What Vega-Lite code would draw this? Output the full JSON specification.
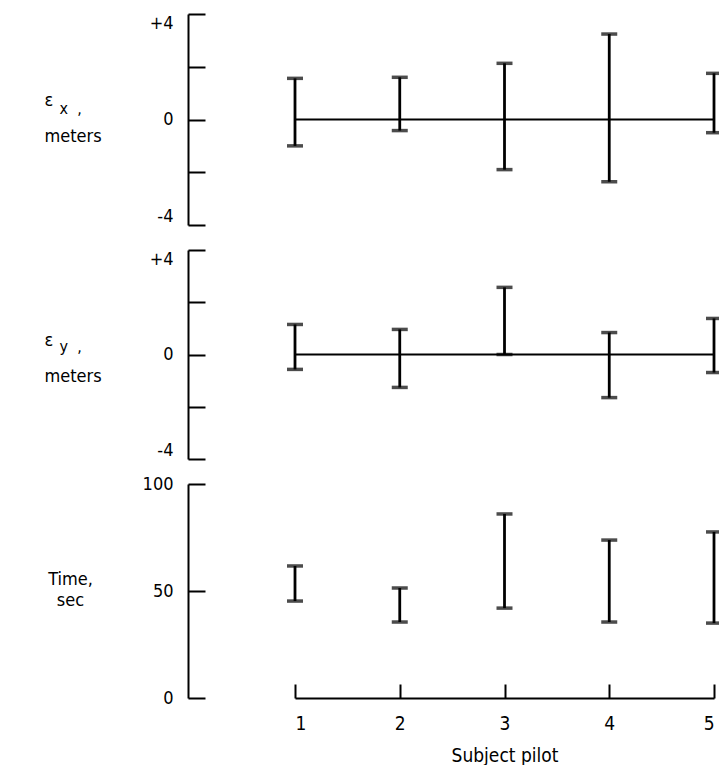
{
  "$schema": "https://vega.github.io/schema/vega-lite/v6.json",
  "background": "white",
  "padding": {"left": 44, "top": 13, "right": 0, "bottom": 0},
  "spacing": 25,
  "bounds": "flush",
  "config": {
    "font": "DejaVu Sans Condensed, Liberation Sans",
    "view": {"stroke": null},
    "axis": {
      "grid": false,
      "domainColor": "black",
      "tickColor": "black",
      "labelColor": "black",
      "titleColor": "black",
      "domainWidth": 2,
      "tickWidth": 2,
      "labelFont": "DejaVu Sans Condensed, Liberation Sans",
      "titleFont": "DejaVu Sans Condensed, Liberation Sans",
      "labelFontSize": 18,
      "titleFontSize": 18,
      "titleFontWeight": "normal"
    }
  },
  "datasets": {
    "ex": [
      {"subject": 1, "low": -1.0, "high": 1.56},
      {"subject": 2, "low": -0.42, "high": 1.6},
      {"subject": 3, "low": -1.9, "high": 2.13},
      {"subject": 4, "low": -2.36, "high": 3.24},
      {"subject": 5, "low": -0.5, "high": 1.75}
    ],
    "ey": [
      {"subject": 1, "low": -0.57, "high": 1.15},
      {"subject": 2, "low": -1.26, "high": 0.96},
      {"subject": 3, "low": 0, "high": 2.57},
      {"subject": 4, "low": -1.65, "high": 0.84},
      {"subject": 5, "low": -0.69, "high": 1.38}
    ],
    "time": [
      {"subject": 1, "low": 45.3, "high": 61.7},
      {"subject": 2, "low": 35.5, "high": 51.4},
      {"subject": 3, "low": 42, "high": 86},
      {"subject": 4, "low": 35.5, "high": 73.8},
      {"subject": 5, "low": 35, "high": 77.6}
    ]
  },
  "vconcat": [
    {
      "width": 419,
      "height": 211,
      "data": {"name": "ex"},
      "encoding": {
        "x": {
          "field": "subject",
          "type": "quantitative",
          "scale": {"domain": [1, 5]},
          "axis": {"domain": false, "ticks": false, "labels": false, "title": "x\u00a0\u00a0,", "titleX": -236, "titleY": -117, "titleFontSize": 16, "titleAlign": "left", "titleBaseline": "middle"}
        }
      },
      "layer": [
        {
          "mark": {"type": "line", "color": "black", "strokeWidth": 2},
          "encoding": {
            "y": {
              "datum": 0,
              "type": "quantitative",
              "scale": {"domain": [-4, 4]},
              "axis": {
                "values": [-4, -2, 0, 2, 4],
                "labelExpr": "datum.value == 4 ? '+4' : datum.value == 0 ? '0' : datum.value == -4 ? '-4' : ''",
                "offset": 107,
                "tickSize": -17,
                "labelPadding": 32,
                "labelFlush": true,
                "title": ["ε", "meters"],
                "titleAngle": 0,
                "titleAlign": "left",
                "titleBaseline": "middle",
                "titleX": -144,
                "titleY": 86,
                "titleLineHeight": 36
              }
            }
          }
        },
        {
          "mark": {"type": "rule", "color": "black", "strokeWidth": 2.8},
          "encoding": {"y": {"field": "low", "type": "quantitative"}, "y2": {"field": "high"}}
        },
        {
          "mark": {"type": "tick", "orient": "horizontal", "color": "black", "size": 16, "thickness": 3.5},
          "encoding": {"y": {"field": "low", "type": "quantitative"}}
        },
        {
          "mark": {"type": "tick", "orient": "horizontal", "color": "black", "size": 16, "thickness": 3.5},
          "encoding": {"y": {"field": "high", "type": "quantitative"}}
        }
      ]
    },
    {
      "width": 419,
      "height": 209,
      "data": {"name": "ey"},
      "encoding": {
        "x": {
          "field": "subject",
          "type": "quantitative",
          "scale": {"domain": [1, 5]},
          "axis": {"domain": false, "ticks": false, "labels": false, "title": "y\u00a0\u00a0,", "titleX": -236, "titleY": -113, "titleFontSize": 16, "titleAlign": "left", "titleBaseline": "middle"}
        }
      },
      "layer": [
        {
          "mark": {"type": "line", "color": "black", "strokeWidth": 2},
          "encoding": {
            "y": {
              "datum": 0,
              "type": "quantitative",
              "scale": {"domain": [-4, 4]},
              "axis": {
                "values": [-4, -2, 0, 2, 4],
                "labelExpr": "datum.value == 4 ? '+4' : datum.value == 0 ? '0' : datum.value == -4 ? '-4' : ''",
                "offset": 107,
                "tickSize": -17,
                "labelPadding": 32,
                "labelFlush": true,
                "title": ["ε", "meters"],
                "titleAngle": 0,
                "titleAlign": "left",
                "titleBaseline": "middle",
                "titleX": -144,
                "titleY": 90,
                "titleLineHeight": 36
              }
            }
          }
        },
        {
          "mark": {"type": "rule", "color": "black", "strokeWidth": 2.8},
          "encoding": {"y": {"field": "low", "type": "quantitative"}, "y2": {"field": "high"}}
        },
        {
          "mark": {"type": "tick", "orient": "horizontal", "color": "black", "size": 16, "thickness": 3.5},
          "encoding": {"y": {"field": "low", "type": "quantitative"}}
        },
        {
          "mark": {"type": "tick", "orient": "horizontal", "color": "black", "size": 16, "thickness": 3.5},
          "encoding": {"y": {"field": "high", "type": "quantitative"}}
        }
      ]
    },
    {
      "width": 419,
      "height": 214,
      "data": {"name": "time"},
      "encoding": {
        "x": {
          "field": "subject",
          "type": "quantitative",
          "scale": {"domain": [1, 5]},
          "axis": {"values": [1, 2, 3, 4, 5], "format": "d", "tickSize": -14, "labelPadding": 30, "labelFontSize": 19, "title": "Subject pilot", "titleFontSize": 19, "titlePadding": 13}
        }
      },
      "layer": [
        {
          "mark": {"type": "rule", "color": "black", "strokeWidth": 2.8},
          "encoding": {
            "y": {
              "field": "low",
              "type": "quantitative",
              "scale": {"domain": [0, 100]},
              "axis": {
                "values": [0, 50, 100],
                "offset": 107,
                "tickSize": -17,
                "labelPadding": 32,
                "title": ["Time,", "sec"],
                "titleAngle": 0,
                "titleAlign": "center",
                "titleBaseline": "middle",
                "titleX": -118,
                "titleY": 95,
                "titleLineHeight": 21
              }
            },
            "y2": {"field": "high"}
          }
        },
        {
          "mark": {"type": "tick", "orient": "horizontal", "color": "black", "size": 16, "thickness": 3.5},
          "encoding": {"y": {"field": "low", "type": "quantitative"}}
        },
        {
          "mark": {"type": "tick", "orient": "horizontal", "color": "black", "size": 16, "thickness": 3.5},
          "encoding": {"y": {"field": "high", "type": "quantitative"}}
        }
      ]
    }
  ]
}
